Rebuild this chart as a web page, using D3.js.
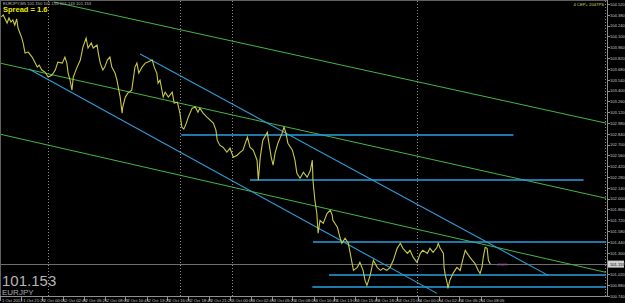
<!DOCTYPE html>
<html><head><meta charset="utf-8">
<script src="https://cdn.jsdelivr.net/npm/d3@7/dist/d3.min.js"></script>
<style>html,body{margin:0;padding:0;background:#000;overflow:hidden}</style>
</head><body>
<svg id="c" width="625" height="303"></svg>
<script>
// ---- data (M5 bar number, price) ----
const bars = [2,5,8,11,14,17,20,23,26,28,31,34,36,39,44,50,54,58,61,65,70,75,81,86,90,97,101,104,106,109,112,114,120,125,129,134,137,142,145,151,153,156,160,163,167,171,174,179,182,187,190,191,195,199,205,210,213,216,221,226,230,237,240,244,246,249,254,257,262,268,271,276,280,283,286,290,293,299,304,308,311,316,322,327,332,336,338,342,347,353,358,363,369,374,378,385,389,394,400,402,405,409,416,417,422,425,428,433,439,442,445,448,455,459,462,467,472,478,483,486,487,490,493,495,498,503,509,514,517,518,525,529,532,537,542,545,550,556,560,565,568,571,576,581,587,592,596,602,607,612,618,623,627,634,638,643,649,654,658,665,669,674,680,682,685,690,691,693,696,697,700,705,711,716,721,724,729,735,739,744,747,750,752,755,758,760,763];
const prices = [104.352,104.378,104.326,104.274,104.339,104.287,104.313,104.248,104.326,104.209,104.144,104.079,104.015,103.885,103.898,103.833,103.768,103.703,103.729,103.665,103.639,103.574,103.600,103.665,103.768,103.755,103.833,103.755,103.626,103.535,103.405,103.574,103.703,103.794,103.963,104.079,103.950,104.015,103.950,103.989,103.885,103.755,103.665,103.703,103.794,103.833,103.703,103.626,103.535,103.315,103.107,103.185,103.315,103.366,103.405,103.703,103.755,103.626,103.703,103.755,103.768,103.794,103.703,103.626,103.496,103.535,103.315,103.379,103.315,103.379,103.237,103.250,103.107,102.926,102.900,102.978,103.055,103.172,103.185,103.120,103.172,103.107,103.055,103.016,102.978,102.887,102.757,102.692,102.666,102.602,102.653,102.537,102.563,102.602,102.628,102.796,102.666,102.628,102.498,102.239,102.537,102.757,102.861,102.796,102.537,102.433,102.589,102.731,102.848,102.926,102.848,102.718,102.628,102.498,102.329,102.265,102.342,102.278,102.368,102.498,102.239,101.979,101.811,101.552,101.720,101.681,101.811,101.850,101.785,101.720,101.629,101.500,101.422,101.487,101.422,101.292,101.072,101.111,101.176,101.072,100.942,100.878,101.007,101.202,101.111,101.072,101.098,101.072,101.111,101.202,101.357,101.422,101.357,101.292,101.331,101.240,101.176,101.292,101.331,101.292,101.357,101.305,101.370,101.422,101.357,101.292,101.111,101.007,100.903,100.839,100.942,101.033,101.111,101.072,101.240,101.331,101.266,101.202,101.163,101.072,101.033,101.111,101.240,101.370,101.357,101.202,101.153];

const priceTicks = [104.520,104.380,104.240,104.100,103.960,103.820,103.680,103.540,103.400,103.260,103.120,102.980,102.840,102.700,102.560,102.420,102.280,102.140,102.000,101.860,101.720,101.580,101.440,101.300,101.160,101.020,100.880,100.740];
const timeTickBars = [0,33,65,98,130,163,195,228,260,293,325,358,390,423,455,488,520,553,585,618,650,683,715,748];
const timeTickLabels = ["1 Oct 2012","1 Oct 21:25","2 Oct 00:05","2 Oct 02:45","2 Oct 05:25","2 Oct 08:05","2 Oct 10:45","2 Oct 13:25","2 Oct 16:05","2 Oct 18:45","2 Oct 21:25","3 Oct 00:05","3 Oct 02:45","3 Oct 05:25","3 Oct 08:05","3 Oct 10:45","3 Oct 13:05","3 Oct 15:45","3 Oct 18:25","3 Oct 21:05","4 Oct 00:05","4 Oct 02:45","4 Oct 05:25","4 Oct 08:05"];
const separatorBars = [75,280,361,649,942];

// trend lines: [bar1, price1, bar2, price2]
const greenLines = [[84,104.546,943,102.978],[0,103.755,943,102.005],[0,102.835,943,101.046]];
const blueLines = [[45,103.678,680,100.774],[218,103.872,853,101.007]];
// horizontal levels: [barStart, barEnd, price]
const levels = [[282,799,102.822],[389,908,102.239],[487,943,101.435],[512,943,101.014],[486,943,100.858]];
const bidPrice = 101.153;
const symbol = "EURJPY";
const spreadText = "Spread = 1.6";

// ---- drawing ----
const svg = d3.select("#c");
const W = 625, H = 303, plotR = 607, plotB = 296;
const x = d3.scaleLinear().domain([0, 943]).range([0, 606]);
const y = d3.scaleLinear().domain([100.740, 104.520]).range([296, 4]);
const font = "Liberation Sans, Arial, sans-serif";

svg.append("rect").attr("width",W).attr("height",H).attr("fill","#000");
svg.append("defs").append("clipPath").attr("id","pc").append("rect")
  .attr("x",1).attr("y",1).attr("width",plotR-1).attr("height",plotB-1);
const g = svg.append("g").attr("clip-path","url(#pc)");

// separators
g.selectAll("line.sep").data(separatorBars).join("line")
  .attr("x1",d=>Math.round(x(d))+0.5).attr("x2",d=>Math.round(x(d))+0.5)
  .attr("y1",1).attr("y2",plotB)
  .attr("stroke","#8a8a8a").attr("stroke-width",1).attr("stroke-dasharray","1,2");

// bid line
g.append("line").attr("x1",0).attr("x2",plotR)
  .attr("y1",Math.round(y(bidPrice))+0.5).attr("y2",Math.round(y(bidPrice))+0.5)
  .attr("stroke","#6e6e6e").attr("stroke-width",1);

// green trend lines
g.selectAll("line.gr").data(greenLines).join("line")
  .attr("x1",d=>x(d[0])).attr("y1",d=>y(d[1])).attr("x2",d=>x(d[2])).attr("y2",d=>y(d[3]))
  .attr("stroke","#45b548").attr("stroke-width",1);
// blue channel lines
g.selectAll("line.bl").data(blueLines).join("line")
  .attr("x1",d=>x(d[0])).attr("y1",d=>y(d[1])).attr("x2",d=>x(d[2])).attr("y2",d=>y(d[3]))
  .attr("stroke","#2f9ed8").attr("stroke-width",1.1);
// horizontal levels
g.selectAll("line.lv").data(levels).join("line")
  .attr("x1",d=>x(d[0])).attr("x2",d=>x(d[1]))
  .attr("y1",d=>Math.round(y(d[2]))).attr("y2",d=>Math.round(y(d[2])))
  .attr("stroke","#2aa0e0").attr("stroke-width",1.6);

// price line
const pts = bars.map((b,i)=>[b,prices[i]]);
g.append("path").datum(pts)
  .attr("d", d3.line().x(d=>x(d[0])).y(d=>y(d[1])))
  .attr("fill","none").attr("stroke","#c8c848").attr("stroke-width",1.1);

// frame
svg.append("line").attr("x1",plotR+0.5).attr("x2",plotR+0.5).attr("y1",0).attr("y2",plotB+1).attr("stroke","#909090");
svg.append("line").attr("x1",0).attr("x2",plotR+1).attr("y1",plotB+0.5).attr("y2",plotB+0.5).attr("stroke","#909090");
svg.append("line").attr("x1",0.5).attr("x2",0.5).attr("y1",0).attr("y2",plotB).attr("stroke","#606060");
svg.append("line").attr("x1",0).attr("x2",plotR).attr("y1",0.5).attr("y2",0.5).attr("stroke","#606060");

// right axis
const ra = svg.append("g");
ra.selectAll("line").data(priceTicks).join("line")
  .attr("x1",plotR).attr("x2",plotR+3)
  .attr("y1",d=>Math.round(y(d))+0.5).attr("y2",d=>Math.round(y(d))+0.5)
  .attr("stroke","#909090");
ra.selectAll("text").data(priceTicks).join("text")
  .attr("x",610).attr("y",d=>y(d)+1.8)
  .attr("fill","#c8c8c8").attr("font-family",font).attr("font-size",4.1)
  .text(d=>d.toFixed(3));

// bid marker
const by = y(bidPrice);
svg.append("rect").attr("x",plotR+1).attr("y",by-3.5).attr("width",16).attr("height",7).attr("fill","#d0d0d0");
svg.append("text").attr("x",610).attr("y",by+1.8).attr("fill","#000")
  .attr("font-family",font).attr("font-size",4.1).text(bidPrice.toFixed(3));

// bottom axis
const ba = svg.append("g");
ba.selectAll("line").data(timeTickBars).join("line")
  .attr("x1",d=>Math.round(x(d))+0.5).attr("x2",d=>Math.round(x(d))+0.5)
  .attr("y1",plotB).attr("y2",plotB+5).attr("stroke","#909090");
ba.selectAll("text").data(timeTickBars).join("text")
  .attr("x",d=>x(d)+2).attr("y",plotB+5.5)
  .attr("fill","#c8c8c8").attr("font-family",font).attr("font-size",4.2)
  .text((d,i)=>timeTickLabels[i]);

// header texts
svg.append("text").attr("x",3).attr("y",5).attr("fill","#bdbdbd").attr("font-family",font).attr("font-size",4.2)
  .text(symbol + ",M5  101.150 101.155 101.143 " + bidPrice.toFixed(3));
svg.append("text").attr("x",3).attr("y",12).attr("fill","#e8e800").attr("font-family",font)
  .attr("font-size",7.5).attr("font-weight","bold").text(spreadText);
svg.append("text").attr("x",604).attr("y",6).attr("text-anchor","end").attr("fill","#d8d860")
  .attr("font-family",font).attr("font-size",4.2).text("4 CEP+ 2047PS");
svg.append("text").attr("x",x(bars[bars.length-1])+6).attr("y",by+2).attr("fill","#a030a0")
  .attr("font-family",font).attr("font-size",4.2).text("-2628");

// bottom-left big price & symbol
svg.append("text").attr("x",2).attr("y",286).attr("fill","#b4b4b4").attr("font-family",font)
  .attr("font-size",15).text(bidPrice.toFixed(3));
svg.append("text").attr("x",2).attr("y",295).attr("fill","#a8a8a8").attr("font-family",font)
  .attr("font-size",8).text(symbol);
</script>
</body></html>
